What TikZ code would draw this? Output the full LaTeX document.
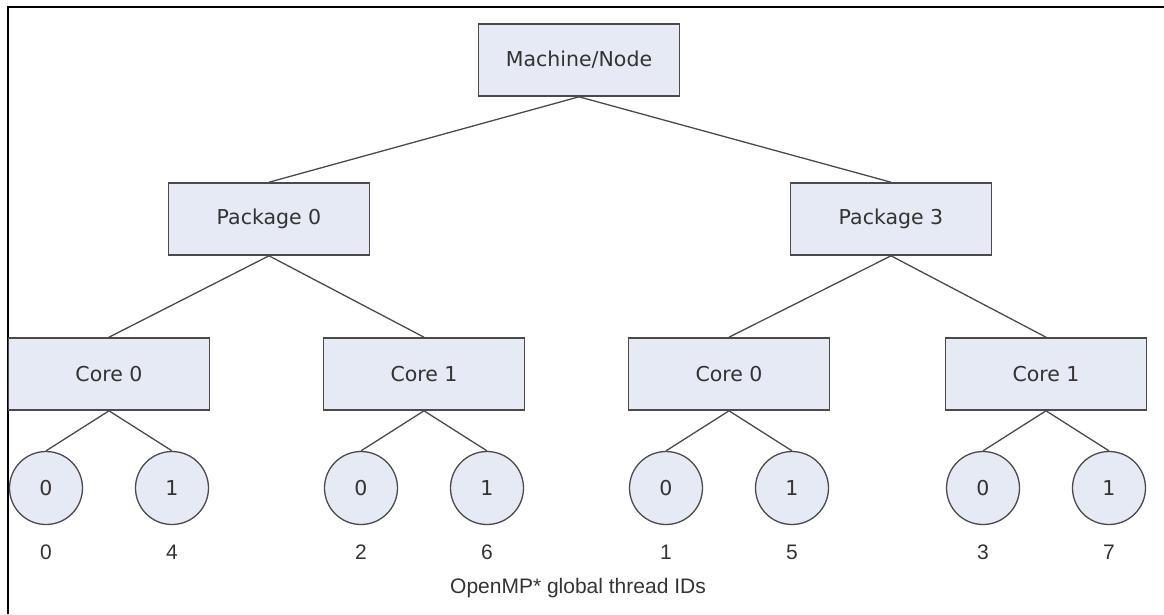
\documentclass[tikz,border=0pt]{standalone}
\usepackage{fontspec}
\setmainfont{DejaVu Sans}
\newfontfamily\arialfont{Liberation Sans}
\definecolor{boxfill}{HTML}{E6EAF5}
\definecolor{boxdraw}{HTML}{4A4A4A}
\definecolor{txt}{HTML}{333333}
\begin{document}
\begin{tikzpicture}[x=1pt,y=-1pt,
  box/.style={draw=boxdraw,line width=1.6pt,fill=boxfill,minimum width=201pt,minimum height=72pt,inner sep=0pt,text=txt,font=\fontsize{20.5}{24}\selectfont},
  thr/.style={circle,draw=boxdraw,line width=1.3pt,fill=boxfill,minimum size=73pt,inner sep=0pt,text=txt,font=\fontsize{20.5}{24}\selectfont},
  gid/.style={inner sep=0pt,text=txt,font=\arialfont\fontsize{21}{24}\selectfont},
  conn/.style={draw=boxdraw,line width=1.3pt}]
\useasboundingbox (0,0) rectangle (1164,614);
\draw[black,line width=2pt] (8,614) -- (8,7) -- (1164,7);
\node[box] (m) at (579,60) {Machine/Node};
\node[box] (p0) at (269,219) {Package 0};
\node[box] (p3) at (891,219) {Package 3};
\node[box] (c00) at (109,374) {Core 0};
\node[box] (c01) at (424,374) {Core 1};
\node[box] (c30) at (729,374) {Core 0};
\node[box] (c31) at (1046,374) {Core 1};
\draw[conn] (m.south) -- (p0.north);
\draw[conn] (m.south) -- (p3.north);
\draw[conn] (p0.south) -- (c00.north);
\draw[conn] (p0.south) -- (c01.north);
\draw[conn] (p3.south) -- (c30.north);
\draw[conn] (p3.south) -- (c31.north);
\foreach \c/\x/\a/\b in {c00/109/0/4, c01/424/2/6, c30/729/1/5, c31/1046/3/7}{
  \node[thr] (\c t0) at (\x-63,488) {0};
  \node[thr] (\c t1) at (\x+63,488) {1};
  \draw[conn] (\c.south) -- (\c t0.north);
  \draw[conn] (\c.south) -- (\c t1.north);
  \node[gid] (\c g0) at (\x-63,552) {\a};
  \node[gid] (\c g1) at (\x+63,552) {\b};
}
\node[gid] (cap) at (578,588) {OpenMP* global thread IDs};
\end{tikzpicture}
\end{document}
